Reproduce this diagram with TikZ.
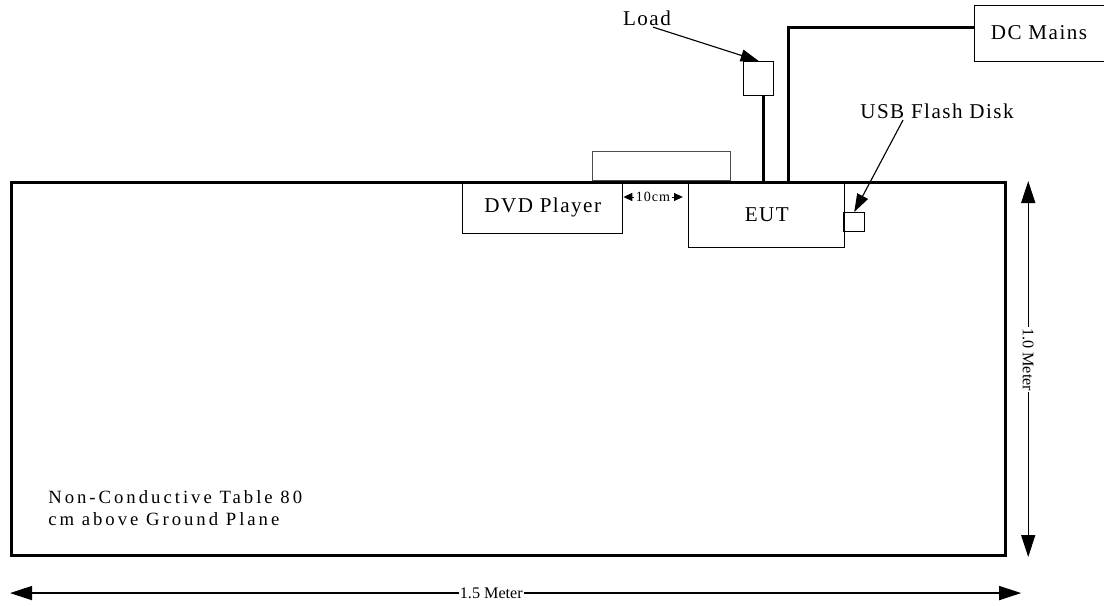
\documentclass[tikz,border=0pt]{standalone}
\usepackage{fontspec}
\setmainfont{Liberation Serif}
\newfontfamily\spacedfont[LetterSpace=7]{Liberation Serif}
\newfontfamily\widefont[LetterSpace=16]{Liberation Serif}
\usetikzlibrary{arrows.meta, positioning, calc}

\begin{document}
\begin{tikzpicture}[x=0.025cm, y=-0.025cm,
    box/.style={rectangle, draw, line width=1pt, inner sep=0pt, anchor=north west},
    lbl/.style={font=\spacedfont\fontsize{15}{18}\selectfont, inner sep=1pt},
    dimlbl/.style={fill=white, inner sep=1pt, font=\fontsize{11.5}{13}\selectfont},
    cable/.style={line width=2.2pt},
    pointer/.style={-{Triangle[length=0.45cm, width=0.3cm]}, line width=0.8pt},
    gaptip/.style={-{Triangle[length=0.22cm, width=0.2cm]}, line width=0.6pt},
    dim/.style={{Triangle[length=0.55cm, width=0.35cm]}-{Triangle[length=0.55cm, width=0.35cm]}, line width=1pt}
]
    \useasboundingbox (0,0) rectangle (1104,605);
    \clip (0,0) rectangle (1104,605);

    % Table
    \node[box, line width=2.1pt, minimum width=24.85cm, minimum height=9.325cm] (table) at (10,181) {};
    \node[anchor=north west, align=left, inner sep=0pt, font=\widefont\fontsize{13.3}{15.6}\selectfont] (tablelbl) at (48,490) {Non-Conductive Table 80\\cm above Ground Plane};

    % Equipment on the table
    \node[box, draw=black!70, line width=0.7pt, anchor=south west, minimum width=3.45cm, minimum height=0.725cm] (tray) at (592,181) {};
    \node[box, lbl, minimum width=4cm, minimum height=1.3cm] (dvd) at (462,181) {DVD Player};
    \node[box, lbl, minimum width=3.9cm, minimum height=1.65cm] (eut) at (688,181) {EUT};
    \node[box, minimum width=0.525cm, minimum height=0.475cm] (usb) at (843,212) {};
    \node[box, minimum width=0.75cm, minimum height=0.85cm] (load) at (743,61) {};
    \node[box, minimum width=4cm, minimum height=1.4cm] (dc) at (974,5) {};
    \node[lbl] (dclbl) at (1039,33) {DC Mains};

    % Labels
    \node[lbl] (loadlbl) at (647,18) {Load};
    \node[lbl] (usblbl) at (937,111) {USB Flash Disk};
    \node[font=\spacedfont\fontsize{10}{12}\selectfont, inner sep=1pt] (gap) at (653,197) {10cm};

    % Cables
    \draw[cable] ([xshift=0.125cm]load.south) -- ([xshift=0.125cm]load.south |- eut.north);
    \draw[cable] ([xshift=0.55cm]eut.north) |- ([yshift=0.15cm]dc.west);

    % Pointers
    \draw[pointer] ([xshift=0.15cm]loadlbl.south) -- (load.north);
    \draw[pointer] ([xshift=-0.85cm]usblbl.south) -- (usb.north);

    % 10 cm spacing
    \draw[gaptip] (gap.west) -- (gap.west -| dvd.east);
    \draw[gaptip, shorten >=0.13cm] (gap.east) -- (gap.east -| eut.west);

    % Dimensions
    \draw[dim] ([xshift=0.525cm]table.north east) -- node[dimlbl, rotate=-90, pos=0.475] (height) {1.0 Meter} ([xshift=0.525cm]table.south east);
    \draw[dim] ([yshift=-0.9cm]table.south west) -- node[dimlbl, pos=0.476] (width) {1.5 Meter} ([shift={(0.35cm,-0.9cm)}]table.south east);
\end{tikzpicture}
\end{document}
